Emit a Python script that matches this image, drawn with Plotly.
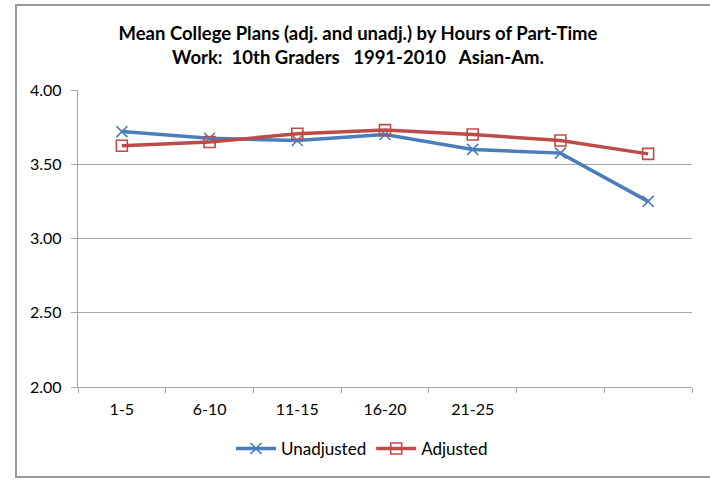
import plotly.graph_objects as go

categories = ["1-5", "6-10", "11-15", "16-20", "21-25", "", ""]
unadjusted = [3.72, 3.675, 3.66, 3.70, 3.60, 3.575, 3.25]
adjusted = [3.625, 3.65, 3.705, 3.73, 3.70, 3.66, 3.57]
y_ticks = [2.0, 2.5, 3.0, 3.5, 4.0]

title_text = ("<b>Mean College Plans (adj. and unadj.) by Hours of Part-Time<br>"
              "Work:  10th Graders   1991-2010   Asian-Am.</b>")

x = list(range(1, len(categories) + 1))
boundaries = [i + 0.5 for i in range(0, len(categories) + 1)]

FONT = "Lato, 'Liberation Sans', sans-serif"
GRID = "#a6a6a6"
BORDER = "#9a9a9a"

fig = go.Figure()
fig.add_trace(go.Scatter(
    x=x, y=unadjusted, name="Unadjusted", mode="lines+markers",
    line=dict(color="#4a7ebb", width=3.5),
    marker=dict(symbol="x-thin-open", size=11, color="#4a7ebb",
                line=dict(color="#4a7ebb", width=1.6)),
))
fig.add_trace(go.Scatter(
    x=x, y=adjusted, name="Adjusted", mode="lines+markers",
    line=dict(color="#be4b48", width=3.5),
    marker=dict(symbol="square-open", size=11, color="#be4b48",
                line=dict(color="#be4b48", width=1.6)),
))

L, R, T, B = 78, 18, 90, 93
W, H = 710, 480
pw = W - L - R
ph = H - T - B

# chart-area border (pixel edges converted to paper fractions)
bx0 = (16 - L) / pw
bx1 = (712 - L) / pw
by0 = -(477 - (T + ph)) / ph
by1 = (T + ph - 5) / ph

border_line = dict(color=BORDER, width=2)
shapes = [
    dict(type="rect", xref="paper", yref="paper", x0=bx0, x1=bx1, y0=by0, y1=by1,
         line=border_line, fillcolor="rgba(0,0,0,0)", layer="above"),
]

fig.update_layout(
    width=W, height=H,
    margin=dict(l=L, r=R, t=T, b=B, pad=0),
    paper_bgcolor="white", plot_bgcolor="white",
    font=dict(family=FONT, size=16, color="#000000"),
    title=dict(text=title_text, x=358 / W, xanchor="center",
               y=1 - 40 / H, yanchor="top",
               font=dict(family=FONT, size=18.5, color="#000000")),
    showlegend=True,
    legend=dict(orientation="h", x=(362 - L) / pw, xanchor="center",
                y=-(449 - (T + ph)) / ph, yanchor="middle",
                font=dict(family=FONT, size=17), itemwidth=40,
                bgcolor="rgba(0,0,0,0)"),
    xaxis=dict(
        range=[0.5, len(categories) + 0.5],
        tickmode="array", tickvals=x, ticktext=categories,
        ticks="", showgrid=False, zeroline=False,
        showline=True, linecolor=GRID, linewidth=1.3,
        tickfont=dict(family=FONT, size=16), ticklabelstandoff=8,
        minor=dict(tickmode="array", tickvals=boundaries, ticks="outside",
                   ticklen=5, tickcolor=GRID, tickwidth=1.3, showgrid=False),
        fixedrange=True,
    ),
    yaxis=dict(
        range=[2.0, 4.0], tickmode="array", tickvals=y_ticks,
        tickformat=".2f", ticks="outside", ticklen=6, tickcolor=GRID,
        tickwidth=1.3, showgrid=True, gridcolor=GRID, gridwidth=1.3,
        zeroline=False, showline=True, linecolor=GRID, linewidth=1.3,
        tickfont=dict(family=FONT, size=16), ticklabelstandoff=6,
        fixedrange=True,
    ),
    shapes=shapes,
)

fig.write_html(
    "out.html",
    config={"displayModeBar": False},
    post_script=("document.body.style.margin='0';"
                 "document.body.style.padding='0';"
                 "document.body.style.overflow='hidden';"
                 "window.scrollTo(0,0);"),
)
